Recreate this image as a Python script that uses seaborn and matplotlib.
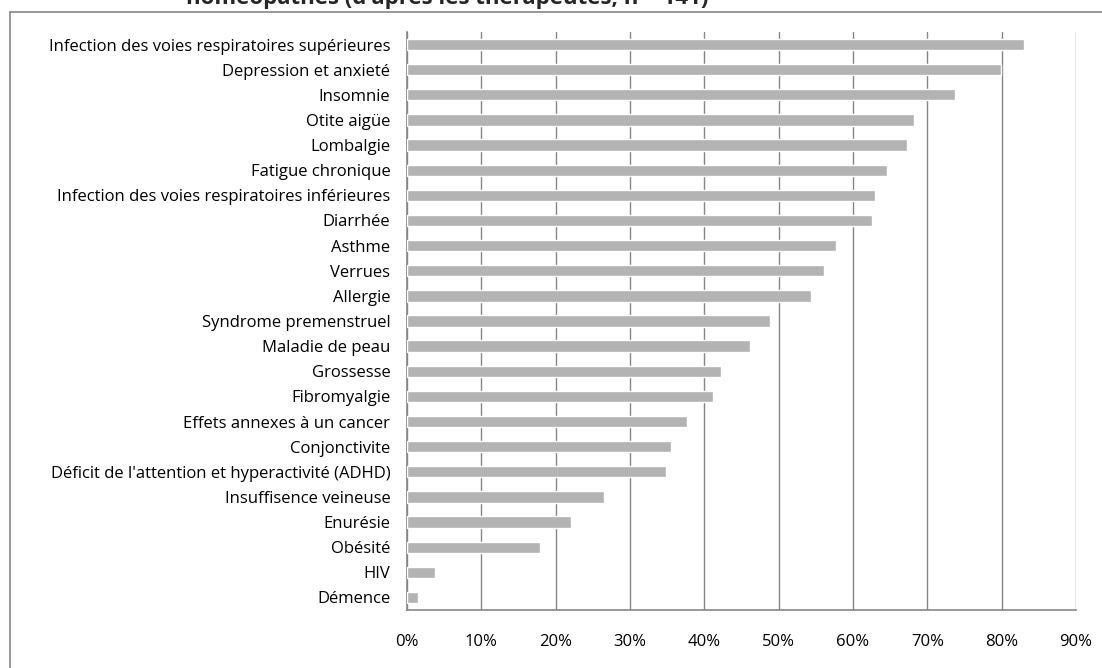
import pandas as pd
import seaborn as sns
import matplotlib.pyplot as plt
from matplotlib.lines import Line2D
from matplotlib.ticker import PercentFormatter

# Données (pourcentage de thérapeutes)
pathologies = [
    "Infection des voies respiratoires supérieures",
    "Depression et anxieté",
    "Insomnie",
    "Otite aigüe",
    "Lombalgie",
    "Fatigue chronique",
    "Infection des voies respiratoires inférieures",
    "Diarrhée",
    "Asthme",
    "Verrues",
    "Allergie",
    "Syndrome premenstruel",
    "Maladie de peau",
    "Grossesse",
    "Fibromyalgie",
    "Effets annexes à un cancer",
    "Conjonctivite",
    "Déficit de l'attention et hyperactivité (ADHD)",
    "Insuffisence veineuse",
    "Enurésie",
    "Obésité",
    "HIV",
    "Démence",
]
pourcentages = [83.0, 79.9, 73.7, 68.2, 67.2, 64.6, 63.0, 62.6, 57.7, 56.1,
                54.3, 48.9, 46.2, 42.3, 41.2, 37.7, 35.5, 34.9, 26.5, 22.1,
                17.9, 3.8, 1.5]
graduations = [0, 10, 20, 30, 40, 50, 60, 70, 80, 90]

df = pd.DataFrame({"pathologie": pathologies, "pourcentage": pourcentages})

sns.set_style("white")
plt.rcParams["font.family"] = ["Open Sans", "DejaVu Sans"]

W, H = 1102, 668
fig = plt.figure(figsize=(W / 100, H / 100), dpi=100)
ax = fig.add_axes([407 / W, 1 - 610 / H, (1076 - 407) / W, (610 - 32) / H])

sns.barplot(data=df, x="pourcentage", y="pathologie", orient="h",
            color="#b3b3b3", width=0.45, saturation=1, ax=ax, zorder=3)

ax.set_xlim(0, 90)
ax.set_ylim(len(pathologies) - 0.5, -0.5)
ax.set_xticks(graduations)
ax.xaxis.set_major_formatter(PercentFormatter(decimals=0))
ax.grid(axis="x", color="#868686", linewidth=1, zorder=0)
ax.set_xlabel("")
ax.set_ylabel("")
ax.tick_params(axis="y", length=0, pad=12, labelsize=12, colors="black")
ax.tick_params(axis="x", length=0, pad=17, labelsize=12, colors="black")

for side in ["top", "right"]:
    ax.spines[side].set_visible(False)
for side in ["left", "bottom"]:
    ax.spines[side].set_color("#868686")
    ax.spines[side].set_linewidth(1.2)

# cadre de la zone de graphique (coupé en bas et à droite)
y_top = 1 - 12 / H
fig.add_artist(Line2D([10 / W, 1], [y_top, y_top], color="#888888", lw=1.2,
                      transform=fig.transFigure))
fig.add_artist(Line2D([10 / W, 10 / W], [0, y_top], color="#888888", lw=1.2,
                      transform=fig.transFigure))

# titre (seule la fin est visible)
fig.text(447 / W, 1 - 4 / H, "homéopathes (d'après les thérapeutes, n = 141)",
         ha="center", va="baseline", fontsize=16, fontweight="bold")

fig.savefig("out.png", dpi=100)
